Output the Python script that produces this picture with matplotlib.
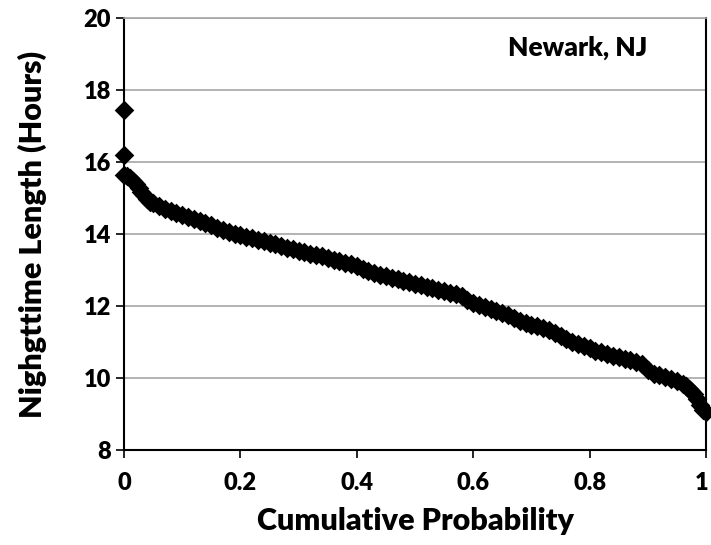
import matplotlib
matplotlib.use("Agg")
from matplotlib import pyplot as plt
from matplotlib import transforms

# sorted nighttime lengths
prob = [0.0, 0.0, 0.0, 0.005, 0.01, 0.015, 0.02, 0.025, 0.03, 0.035, 0.04, 0.045, 0.05, 0.06, 0.07, 0.08, 0.09,
        0.10, 0.11, 0.12, 0.13, 0.14, 0.15, 0.16, 0.17, 0.18, 0.19,
        0.20, 0.21, 0.22, 0.23, 0.24, 0.25, 0.26, 0.27, 0.28, 0.29,
        0.30, 0.31, 0.32, 0.33, 0.34, 0.35, 0.36, 0.37, 0.38, 0.39,
        0.40, 0.41, 0.42, 0.43, 0.44, 0.45, 0.46, 0.47, 0.48, 0.49,
        0.50, 0.51, 0.52, 0.53, 0.54, 0.55, 0.56, 0.57, 0.58, 0.59,
        0.60, 0.61, 0.62, 0.63, 0.64, 0.65, 0.66, 0.67, 0.68, 0.69,
        0.70, 0.71, 0.72, 0.73, 0.74, 0.75, 0.76, 0.77, 0.78, 0.79,
        0.80, 0.81, 0.82, 0.83, 0.84, 0.85, 0.86, 0.87, 0.88, 0.89,
        0.90, 0.91, 0.92, 0.93, 0.94, 0.95, 0.96, 0.965, 0.97, 0.975, 0.98, 0.985, 0.99,
        0.995, 1.0]
hours = [17.45, 16.2, 15.65, 15.60, 15.55, 15.48, 15.40, 15.28, 15.18, 15.07, 14.98, 14.90, 14.85, 14.78, 14.70, 14.64, 14.58,
         14.54, 14.48, 14.42, 14.36, 14.30, 14.24, 14.18, 14.12, 14.06, 14.01,
         13.96, 13.92, 13.88, 13.84, 13.80, 13.76, 13.71, 13.67, 13.62, 13.57,
         13.53, 13.49, 13.45, 13.41, 13.38, 13.33, 13.28, 13.24, 13.20, 13.16,
         13.10, 13.04, 12.98, 12.92, 12.87, 12.82, 12.78, 12.74, 12.70, 12.66,
         12.62, 12.58, 12.53, 12.49, 12.45, 12.41, 12.37, 12.33, 12.28, 12.18,
         12.08, 12.03, 11.98, 11.92, 11.86, 11.80, 11.74, 11.66, 11.58, 11.52,
         11.48, 11.45, 11.40, 11.32, 11.24, 11.16, 11.08, 11.01, 10.95, 10.88,
         10.82, 10.76, 10.71, 10.66, 10.61, 10.57, 10.53, 10.49, 10.45, 10.40,
         10.22, 10.12, 10.08, 10.03, 9.98, 9.92, 9.82, 9.77, 9.70, 9.63, 9.55, 9.42, 9.25,
         9.12, 9.05]

xticks = [0, 0.2, 0.4, 0.6, 0.8, 1]
xticklabels = ["0", "0.2", "0.4", "0.6", "0.8", "1"]
yticks = [8, 10, 12, 14, 16, 18, 20]

plt.rcParams["font.family"] = ["Lato", "DejaVu Sans"]
plt.rcParams["font.weight"] = "heavy"

fig = plt.figure(figsize=(7.11, 5.45), dpi=100)
ax = fig.add_axes([0.1744, 0.1743, 0.8186, 0.7927])

ax.scatter(prob, hours, marker="D", s=100, color="black", linewidths=0, zorder=3, clip_on=False)

ax.set_xlim(0, 1)
ax.set_ylim(8, 20)
ax.set_xticks(xticks)
ax.set_xticklabels(xticklabels)
ax.set_yticks(yticks)
ax.yaxis.grid(True, color="#a6a6a6", linewidth=1.2)
ax.set_axisbelow(True)

for s in ["left", "bottom", "right"]:
    ax.spines[s].set_color("black")
    ax.spines[s].set_linewidth(1.5)
ax.spines["top"].set_color("#a6a6a6")
ax.spines["top"].set_linewidth(1.2)

ax.tick_params(axis="both", direction="out", length=6, width=1.2, labelsize=17)
ax.tick_params(axis="x", pad=10)

# nudge the last x label a little so it stays inside the figure
last = ax.get_xticklabels()[-1]
last.set_transform(last.get_transform() + transforms.ScaledTranslation(-4 / 100, 0, fig.dpi_scale_trans))

ax.set_xlabel("Cumulative Probability", fontsize=22, fontweight="heavy", labelpad=9)
ax.set_ylabel("Nighgttime Length (Hours)", fontsize=22, fontweight="heavy", labelpad=26)
ax.text(0.78, 0.93, "Newark, NJ", transform=ax.transAxes, ha="center", va="center",
        fontsize=19, fontweight="heavy")

fig.savefig("out.png", dpi=100)
